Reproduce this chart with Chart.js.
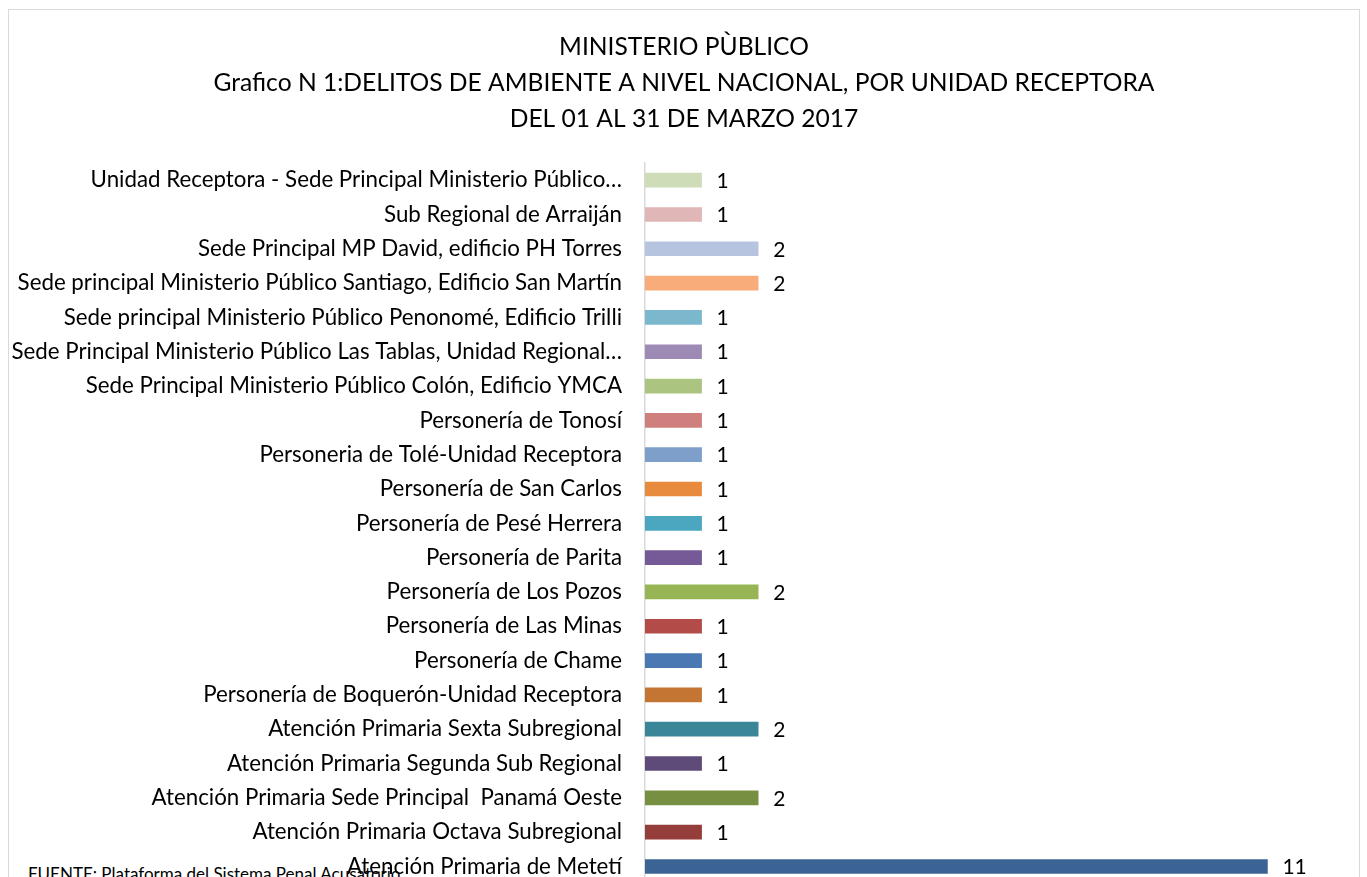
<!DOCTYPE html>
<html>
<head>
<meta charset="utf-8">
<script src="https://cdn.jsdelivr.net/npm/chart.js@4.4.1/dist/chart.umd.min.js"></script>
<style>
  html,body{margin:0;overflow:hidden;background:#fff;}
  #wrap{position:relative;width:1367px;height:920px;overflow:hidden;}
  #frame{position:absolute;left:8px;top:9px;width:1352px;height:940px;border:1px solid #d9d9d9;box-sizing:border-box;}
  #fuente{position:absolute;left:28px;top:865px;font-family:Lato,sans-serif;font-size:17px;line-height:17px;color:#000;white-space:nowrap;}
  canvas{position:absolute;left:0;top:0;}
</style>
</head>
<body>
<div id="wrap">
  <div id="frame"></div>
  <div id="fuente">FUENTE: Plataforma del Sistema Penal Acusatorio</div>
  <canvas id="myChart" width="1367" height="920" style="width:1367px;height:920px"></canvas>
</div>
<script>
const titleLines=['MINISTERIO PÙBLICO','Grafico N 1:DELITOS DE AMBIENTE A NIVEL NACIONAL, POR UNIDAD RECEPTORA','DEL 01 AL 31 DE MARZO 2017'];

const labels=[
  'Unidad Receptora - Sede Principal Ministerio Público…',
  'Sub Regional de Arraiján',
  'Sede Principal MP David, edificio PH Torres',
  'Sede principal Ministerio Público Santiago, Edificio San Martín',
  'Sede principal Ministerio Público Penonomé, Edificio Trilli',
  'Sede Principal Ministerio Público Las Tablas, Unidad Regional…',
  'Sede Principal Ministerio Público Colón, Edificio YMCA',
  'Personería de Tonosí',
  'Personeria de Tolé-Unidad Receptora',
  'Personería de San Carlos',
  'Personería de Pesé Herrera',
  'Personería de Parita',
  'Personería de Los Pozos',
  'Personería de Las Minas',
  'Personería de Chame',
  'Personería de Boquerón-Unidad Receptora',
  'Atención Primaria Sexta Subregional',
  'Atención Primaria Segunda Sub Regional',
  'Atención Primaria Sede Principal  Panamá Oeste',
  'Atención Primaria Octava Subregional',
  'Atención Primaria de Metetí'
];

const values=[1,1,2,2,1,1,1,1,1,1,1,1,2,1,1,1,2,1,2,1,11];

const colors=[
  '#cfdcb8','#e0b7b6','#b6c4e0','#f8ac7a','#7bb8ce','#9d8ab5','#abc581',
  '#cf7f7e','#7f9fcb','#e98b3f','#4ba7c0','#765a97','#97b555','#b34c49',
  '#4a78b2','#c47534','#3a8598','#5f4b7a','#768f41','#953d3b','#3b6494'
];

const FONT='Lato, sans-serif';

// title and value labels drawn on the canvas
const textPlugin={
  id:'textPlugin',
  afterDatasetsDraw(chart){
    const ctx=chart.ctx;
    ctx.save();
    ctx.fillStyle='#000';
    ctx.textAlign='center';
    ctx.textBaseline='middle';
    ctx.font='24.6px '+FONT;
    titleLines.forEach((t,i)=>{
      ctx.fillText(t,684,47+i*36);
    });
    ctx.font='21px '+FONT;
    ctx.textAlign='left';
    const meta=chart.getDatasetMeta(0);
    meta.data.forEach((bar,i)=>{
      ctx.fillText(values[i],bar.x+15,bar.y+1);
    });
    ctx.restore();
  }
};

window.addEventListener('load',()=>{
  const ctx=document.getElementById('myChart').getContext('2d');
  new Chart(ctx,{
    type:'bar',
    data:{
      labels:labels,
      datasets:[{
        data:values,
        backgroundColor:colors,
        borderWidth:0,
        barThickness:14
      }]
    },
    options:{
      indexAxis:'y',
      responsive:false,
      animation:false,
      layout:{padding:{top:163,right:43,bottom:17,left:0}},
      plugins:{legend:{display:false},title:{display:false},tooltip:{enabled:false}},
      scales:{
        x:{display:false,min:0,max:12},
        y:{
          afterFit(scale){scale.width=645;},
          grid:{display:false,drawTicks:false},
          border:{display:true,color:'#d9d9d9',width:1.5},
          ticks:{color:'#000',padding:23,font:{family:FONT,size:22.3},autoSkip:false}
        }
      }
    },
    plugins:[textPlugin]
  });
});
</script>
</body>
</html>
